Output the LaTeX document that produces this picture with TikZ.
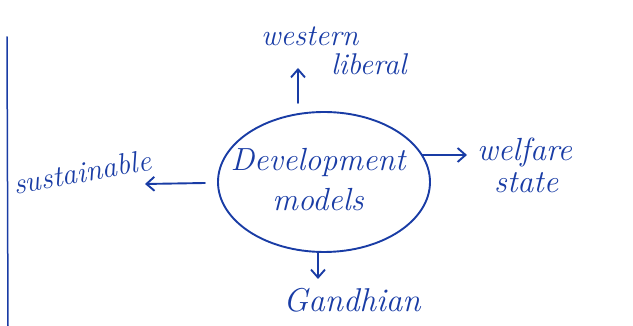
\documentclass[tikz,border=0pt]{standalone}
\usetikzlibrary{arrows.meta,shapes.geometric}
\definecolor{ink}{RGB}{25,60,165}
\begin{document}
\begin{tikzpicture}[x=1pt,y=1pt,
  pen/.style={draw=ink, line width=1.9pt, line cap=round},
  arr/.style={pen, -{Straight Barb[length=8pt,width=14pt,line width=1.9pt]}},
  lbl/.style={text=ink, font=\itshape\fontsize{30}{32}\selectfont, inner sep=1pt, align=center}]
\useasboundingbox (0,0) rectangle (633,326);
% margin line
\coordinate (m1) at (7,289);
\coordinate (m2) at (8,0);
\draw[pen, line width=1.5pt] (m1) -- (m2);
% centre
\node[pen, ellipse, minimum width=212pt, minimum height=140pt, draw] (c) at (324,144) {};
\node[lbl, font=\itshape\fontsize{32}{40}\selectfont] (ct) at (318,146) {Development\\models};
% labels
\node[lbl, anchor=west] (w1) at (260,290) {western};
\node[lbl, anchor=west] (w2) at (330,262) {liberal};
\node[lbl, rotate=10] (s) at (82,154) {sustainable};
\node[lbl, anchor=west, font=\itshape\fontsize{32}{34}\selectfont] (wf1) at (476,173) {welfare};
\node[lbl, anchor=west, font=\itshape\fontsize{32}{34}\selectfont] (wf2) at (493,143) {state};
\node[lbl, font=\itshape\fontsize{33}{34}\selectfont] (g) at (352,26) {Gandhian};
% arrow anchors
\coordinate (u0) at (298,223);
\coordinate (u1) at (298,258);
\coordinate (l0) at (205,143);
\coordinate (l1) at (145,142);
\coordinate (r0) at (422,171);
\coordinate (r1) at (467,171);
\coordinate (d0) at (318,74);
\coordinate (d1) at (318,47);
\draw[arr] (u0) -- (u1);
\draw[arr] (l0) -- (l1);
\draw[arr] (r0) -- (r1);
\draw[arr] (d0) -- (d1);
\end{tikzpicture}
\end{document}
